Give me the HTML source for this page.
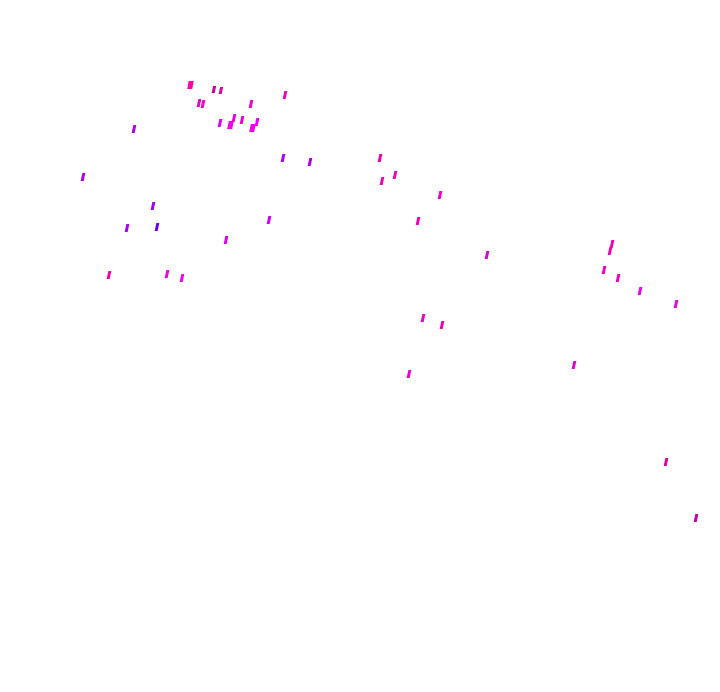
<!DOCTYPE html>
<html><head><meta charset="utf-8"><style>
html,body{margin:0;padding:0;background:#fff;width:720px;height:692px;overflow:hidden}
</style></head><body>
<svg width="720" height="692" xmlns="http://www.w3.org/2000/svg">
<g>
<rect x="188" y="81" width="5" height="8" fill="#ff00aa" transform="skewX(-10)" transform-origin="190 85"/>
<rect x="212.5" y="86" width="3" height="7" fill="#cc0088" transform="skewX(-12)" transform-origin="214 89"/>
<rect x="219.5" y="87" width="3" height="7" fill="#dd0099" transform="skewX(-12)" transform-origin="221 90"/>
<rect x="283.5" y="91" width="3" height="8" fill="#ee00bb" transform="skewX(-12)" transform-origin="285 95"/>
<rect x="197.5" y="99" width="3" height="8" fill="#ee00cc" transform="skewX(-12)" transform-origin="199 103"/>
<rect x="201.5" y="100" width="3" height="8" fill="#ee00cc" transform="skewX(-12)" transform-origin="203 104"/>
<rect x="249.5" y="100" width="3" height="8" fill="#ee00cc" transform="skewX(-12)" transform-origin="251 104"/>
<rect x="132.5" y="125" width="3" height="8" fill="#aa00ee" transform="skewX(-12)" transform-origin="134 129"/>
<rect x="218.5" y="119" width="3" height="8" fill="#dd00ff" transform="skewX(-12)" transform-origin="220 123"/>
<rect x="228" y="121" width="5" height="8" fill="#ee00ee" transform="skewX(-12)" transform-origin="230 125"/>
<rect x="232.5" y="114" width="3" height="8" fill="#ee00dd" transform="skewX(-12)" transform-origin="234 118"/>
<rect x="240.5" y="116" width="3" height="8" fill="#ee00cc" transform="skewX(-12)" transform-origin="242 120"/>
<rect x="250" y="124" width="5" height="8" fill="#ee00ee" transform="skewX(-12)" transform-origin="252 128"/>
<rect x="255.5" y="118" width="3" height="8" fill="#ee00ee" transform="skewX(-12)" transform-origin="257 122"/>
<rect x="281.5" y="154" width="3" height="8" fill="#aa00ee" transform="skewX(-12)" transform-origin="283 158"/>
<rect x="308.5" y="158" width="3" height="8" fill="#aa00ee" transform="skewX(-12)" transform-origin="310 162"/>
<rect x="378.5" y="154" width="3" height="8" fill="#ee00aa" transform="skewX(-12)" transform-origin="380 158"/>
<rect x="380.5" y="177" width="3" height="8" fill="#ee00bb" transform="skewX(-12)" transform-origin="382 181"/>
<rect x="393.5" y="171" width="3" height="8" fill="#ee00bb" transform="skewX(-12)" transform-origin="395 175"/>
<rect x="438.5" y="191" width="3" height="8" fill="#ee00cc" transform="skewX(-12)" transform-origin="440 195"/>
<rect x="81.5" y="173" width="3" height="8" fill="#aa00ee" transform="skewX(-12)" transform-origin="83 177"/>
<rect x="151.5" y="202" width="3" height="8" fill="#9900ee" transform="skewX(-12)" transform-origin="153 206"/>
<rect x="125.5" y="224" width="3" height="8" fill="#aa00ee" transform="skewX(-12)" transform-origin="127 228"/>
<rect x="155.5" y="223" width="3" height="8" fill="#6600ee" transform="skewX(-12)" transform-origin="157 227"/>
<rect x="267.5" y="216" width="3" height="8" fill="#cc00ee" transform="skewX(-12)" transform-origin="269 220"/>
<rect x="224.5" y="236" width="3" height="8" fill="#dd00ee" transform="skewX(-12)" transform-origin="226 240"/>
<rect x="416.5" y="217" width="3" height="8" fill="#ee00bb" transform="skewX(-12)" transform-origin="418 221"/>
<rect x="485.5" y="251" width="3" height="8" fill="#dd00cc" transform="skewX(-12)" transform-origin="487 255"/>
<rect x="610.5" y="240" width="3" height="8" fill="#ee00bb" transform="skewX(-12)" transform-origin="612 244"/>
<rect x="608.5" y="247" width="3" height="8" fill="#ee00bb" transform="skewX(-12)" transform-origin="610 251"/>
<rect x="602.5" y="266" width="3" height="8" fill="#ee00cc" transform="skewX(-12)" transform-origin="604 270"/>
<rect x="616.5" y="274" width="3" height="8" fill="#ee00cc" transform="skewX(-12)" transform-origin="618 278"/>
<rect x="638.5" y="287" width="3" height="8" fill="#ee00ee" transform="skewX(-12)" transform-origin="640 291"/>
<rect x="674.5" y="300" width="3" height="8" fill="#ee00dd" transform="skewX(-12)" transform-origin="676 304"/>
<rect x="107.5" y="271" width="3" height="8" fill="#ee00aa" transform="skewX(-12)" transform-origin="109 275"/>
<rect x="165.5" y="270" width="3" height="8" fill="#ee00ee" transform="skewX(-12)" transform-origin="167 274"/>
<rect x="180.5" y="274" width="3" height="8" fill="#ee00ee" transform="skewX(-12)" transform-origin="182 278"/>
<rect x="421.5" y="314" width="3" height="8" fill="#ee00cc" transform="skewX(-12)" transform-origin="423 318"/>
<rect x="440.5" y="321" width="3" height="8" fill="#ee00bb" transform="skewX(-12)" transform-origin="442 325"/>
<rect x="407.5" y="370" width="3" height="8" fill="#ee00cc" transform="skewX(-12)" transform-origin="409 374"/>
<rect x="572.5" y="361" width="3" height="8" fill="#dd00dd" transform="skewX(-12)" transform-origin="574 365"/>
<rect x="664.5" y="458" width="3" height="8" fill="#dd0099" transform="skewX(-12)" transform-origin="666 462"/>
<rect x="694.5" y="514" width="3" height="8" fill="#bb00aa" transform="skewX(-12)" transform-origin="696 518"/>
</g>
</svg>
</body></html>
